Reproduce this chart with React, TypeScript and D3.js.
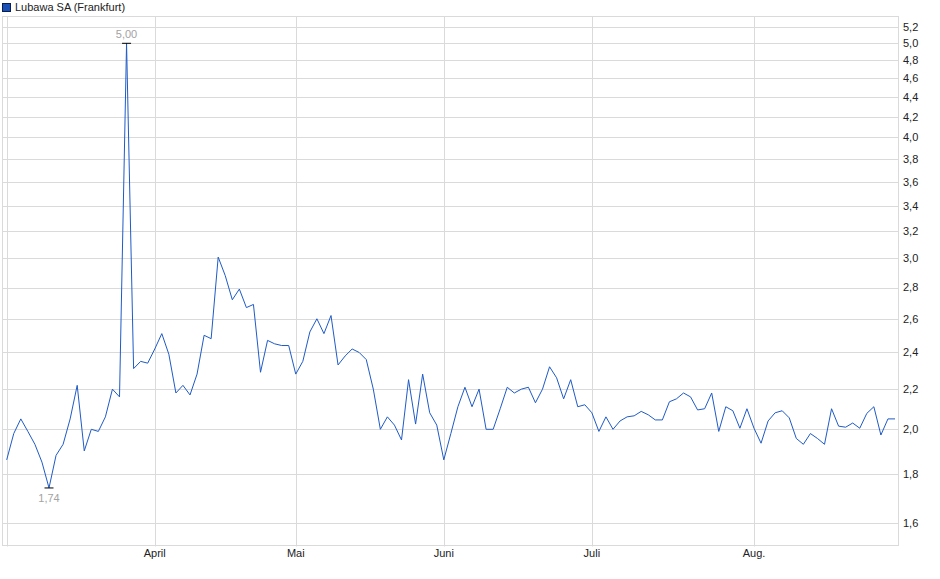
import React from 'react';
import * as d3 from 'd3';

// daily closing prices (EUR), one per trading day shown
const prices = [
  1.86, 1.98, 2.05, 1.99, 1.93, 1.85, 1.74, 1.88, 1.93, 2.05,
  2.22, 1.90, 2.00, 1.99, 2.06, 2.20, 2.16, 5.00, 2.31, 2.35,
  2.34, 2.42, 2.51, 2.39, 2.18, 2.22, 2.17, 2.28, 2.50, 2.48,
  3.01, 2.88, 2.72, 2.79, 2.67, 2.69, 2.29, 2.47, 2.45, 2.44,
  2.44, 2.28, 2.35, 2.52, 2.60, 2.51, 2.62, 2.33, 2.38, 2.42,
  2.40, 2.36, 2.20, 2.00, 2.06, 2.02, 1.95, 2.25, 2.025, 2.28,
  2.08, 2.02, 1.86, 1.98, 2.11, 2.21, 2.11, 2.20, 2.00, 2.00,
  2.10, 2.21, 2.18, 2.20, 2.21, 2.13, 2.20, 2.32, 2.26, 2.15,
  2.25, 2.11, 2.12, 2.08, 1.99, 2.06, 2.00, 2.04, 2.06, 2.065,
  2.087, 2.07, 2.045, 2.045, 2.135, 2.15, 2.18, 2.16, 2.094, 2.10,
  2.18, 1.99, 2.11, 2.09, 2.005, 2.10, 2.005, 1.935, 2.04, 2.08,
  2.09, 2.055, 1.957, 1.93, 1.98, 1.957, 1.93, 2.10, 2.015, 2.01,
  2.03, 2.005, 2.077, 2.11, 1.973, 2.05, 2.05,
];

// first trading day of each month (index into prices)
const monthIndex = [0, 21, 41, 62, 83, 106];
const monthLabels = ['', 'April', 'Mai', 'Juni', 'Juli', 'Aug.'];

const yTicks = [1.6, 1.8, 2.0, 2.2, 2.4, 2.6, 2.8, 3.0, 3.2, 3.4, 3.6, 3.8, 4.0, 4.2, 4.4, 4.6, 4.8, 5.0, 5.2];

const seriesName = 'Lubawa SA (Frankfurt)';

const W = 940;
const H = 579;
const plot = { left: 2.5, right: 898.5, top: 16.5, bottom: 545.5 };
const font = '"Liberation Sans", Arial, sans-serif';
const gridColor = '#dadada';
const lineColor = '#1f5bc6';

export default function App() {
  const x = d3.scaleLinear()
    .domain([0, prices.length - 1])
    .range([6.7, 895]);

  // log price axis
  const y = d3.scaleLog()
    .domain([1.6, 5.0])
    .range([523.3, 43.3]);

  const line = d3.line<number>()
    .x((_, i) => x(i))
    .y(d => y(d));

  const comma = (v: number, digits: number) => d3.format(`.${digits}f`)(v).replace('.', ',');

  const maxI = d3.maxIndex(prices);
  const minI = d3.minIndex(prices);

  return (
    <svg width={W} height={H} style={{ position: 'absolute', left: 0, top: 0, background: '#fff' }}
      fontFamily={font} fontSize={11}>
      {/* legend */}
      <rect x={2.5} y={3.5} width={8} height={8} fill="#1a4fb5" stroke="#0a1f50" />
      <text x={15} y={11} fill="#222">{seriesName}</text>

      {/* horizontal grid + right axis labels */}
      {yTicks.map(t => (
        <g key={t}>
          <line x1={plot.left} x2={plot.right} y1={Math.round(y(t)) + 0.5} y2={Math.round(y(t)) + 0.5}
            stroke={gridColor} />
          <text x={903} y={y(t)} dy="0.35em" fill="#222">{comma(t, 1)}</text>
        </g>
      ))}

      {/* vertical month grid */}
      {monthIndex.map((idx, k) => (
        <g key={idx}>
          <line x1={Math.round(x(idx)) + 0.5} x2={Math.round(x(idx)) + 0.5} y1={plot.top} y2={plot.bottom + 1}
            stroke={gridColor} />
          {monthLabels[k] && (
            <text x={x(idx)} y={557} textAnchor="middle" fill="#222">{monthLabels[k]}</text>
          )}
        </g>
      ))}

      {/* frame */}
      <rect x={plot.left} y={plot.top} width={plot.right - plot.left} height={plot.bottom - plot.top}
        fill="none" stroke={gridColor} />

      {/* price line */}
      <path d={line(prices) ?? ''} fill="none" stroke={lineColor} strokeWidth={1} />

      {/* max / min markers */}
      <line x1={x(maxI) - 4.5} x2={x(maxI) + 4.5} y1={y(prices[maxI])} y2={y(prices[maxI])} stroke="#000" />
      <text x={x(maxI)} y={y(prices[maxI]) - 5} textAnchor="middle" fill="#a3a3a3">{comma(prices[maxI], 2)}</text>
      <line x1={x(minI) - 4.5} x2={x(minI) + 4.5} y1={y(prices[minI])} y2={y(prices[minI])} stroke="#000" />
      <text x={x(minI)} y={y(prices[minI]) + 14} textAnchor="middle" fill="#a3a3a3">{comma(prices[minI], 2)}</text>
    </svg>
  );
}
